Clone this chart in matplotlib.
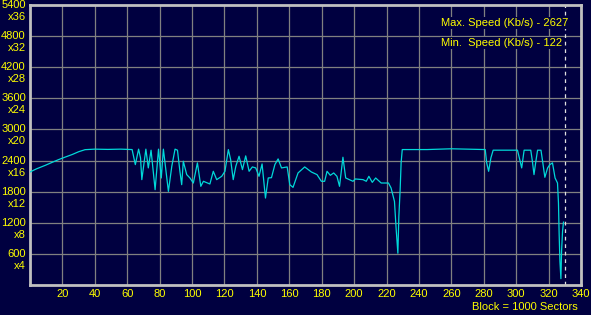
import matplotlib
matplotlib.use("Agg")
import matplotlib.pyplot as plt
import numpy as np

plt.rcParams['font.family'] = ['Liberation Sans', 'DejaVu Sans']

# 讀取自圖上的速度曲線 (block, Kb/s)
block = [0, 4, 9.5, 14, 17.7, 22, 26, 30, 34, 40, 48, 56, 63,
         65, 67, 68.2, 69, 71.5, 73, 74.7, 77.2, 79.3, 81, 82.3, 85.4, 87.5, 89.5, 91,
         92.5, 93.6, 94.6, 96.7, 98.7, 100.8, 103.3, 105.4, 107, 111,
         113.1, 115.2, 118.3, 120.3, 122.4, 123.8, 125.4, 127, 129, 131.1, 133.1,
         135.2, 137.2, 139.3, 141.3, 143.2, 145.3, 147, 149, 151.1, 153.1, 155.2,
         158.7, 160.3, 162.3, 165.4, 169.5, 173.6, 177.1, 179.8, 181.8, 183.3,
         185.3, 187.4, 189.4, 191, 193.1, 194.8, 199.3, 200.7, 205.5, 207.5,
         209.1, 211.2, 213.3, 216.7, 221.2, 222.8, 224.9, 225.9, 227, 227.6,
         228.4, 229, 229.7, 245, 260, 280.9, 281.8, 283, 284.4, 285.8, 300.8,
         302.2, 303.4, 304.9, 309, 310, 311, 312, 313.2, 315.3, 316.3, 317.7,
         319.4, 320.8, 322.4, 324, 325.5, 326.1, 326.5, 327, 327.6, 328, 328.6,
         329.2]
speed = [2180, 2240, 2309, 2370, 2419, 2470, 2516, 2570, 2610, 2620, 2615, 2620, 2612,
         2322, 2620, 2450, 2032, 2620, 2258, 2600, 1838, 2620, 2064, 2620, 1806, 2290, 2620, 2600,
         2193, 1935, 2387, 2129, 2064, 1967, 2355, 1903, 2000, 1948,
         2193, 2032, 2096, 2193, 2612, 2419, 2032, 2290, 2483, 2225, 2490,
         2193, 2277, 2258, 2096, 2335, 1677, 2064, 2070, 2322, 2432, 2258,
         2277, 1935, 1883, 2161, 2277, 2180, 2129, 2000, 2000, 2193,
         2115, 2161, 2096, 1903, 2464, 2064, 2000, 2045, 2032, 2000,
         2096, 1980, 2064, 1967, 1967, 1871, 1612, 1097, 613, 1322,
         1838, 2355, 2612, 2612, 2627, 2612, 2355, 2193, 2451, 2600, 2600,
         2419, 2258, 2600, 2600, 2387, 2129, 2355, 2600, 2600, 2387, 2077,
         2258, 2322, 2355, 2064, 1967, 1580, 1000, 451, 122, 645, 1032,
         1213]

y_ticks = [600, 1200, 1800, 2400, 3000, 3600, 4200, 4800, 5400]
x_ticks = list(range(20, 341, 20))
max_speed = 2627
min_speed = 122
end_block = 330

bg = "#000040"
yellow = "#ffff00"

fig = plt.figure(figsize=(5.91, 3.15), dpi=100, facecolor=bg)
ax = fig.add_axes([30 / 591, 1 - 285 / 315, 551 / 591, 280 / 315])
ax.set_facecolor(bg)

ax.set_xlim(0, 340)
ax.set_ylim(0, 5400)

for x in x_ticks[:-1]:
    ax.axvline(x, color="#808080", lw=0.9, zorder=1)
for y in y_ticks[:-1]:
    ax.axhline(y, color="#808080", lw=0.9, zorder=1)

ax.plot(block, speed, color="#00d8d8", lw=0.9, zorder=3)
ax.axvline(end_block, color="#e0e0e0", lw=0.9, ls=(0, (3, 3)), zorder=2)

for s in ax.spines.values():
    s.set_color("#c0c0c0")
    s.set_linewidth(2)

ax.set_xticks(x_ticks)
ax.set_xticklabels([str(x) for x in x_ticks])
ax.set_yticks([])
ax.tick_params(axis="x", length=0, pad=3, colors=yellow, labelsize=8)

# 左側的雙行刻度標籤
for y in y_ticks:
    ax.annotate(str(y), xy=(0, y), xycoords=("axes fraction", "data"),
                xytext=(-3, 0), textcoords="offset points",
                ha="right", va="center", color=yellow, fontsize=8)
    ax.annotate("x%d" % (y // 150), xy=(0, y), xycoords=("axes fraction", "data"),
                xytext=(-3, -8.6), textcoords="offset points",
                ha="right", va="center", color=yellow, fontsize=8)

box = dict(facecolor=bg, edgecolor="none", pad=1)
fig.text(441 / 591, 1 - 23 / 315, "Max. Speed (Kb/s) - %d" % max_speed,
         ha="left", va="center", color=yellow, fontsize=8, bbox=box)
fig.text(441 / 591, 1 - 43 / 315, "Min.  Speed (Kb/s) - %d" % min_speed,
         ha="left", va="center", color=yellow, fontsize=8, bbox=box)
fig.text(578 / 591, 1 - 307 / 315, "Block = 1000 Sectors",
         ha="right", va="center", color=yellow, fontsize=8)

fig.savefig("out.png", dpi=100, facecolor=bg)
